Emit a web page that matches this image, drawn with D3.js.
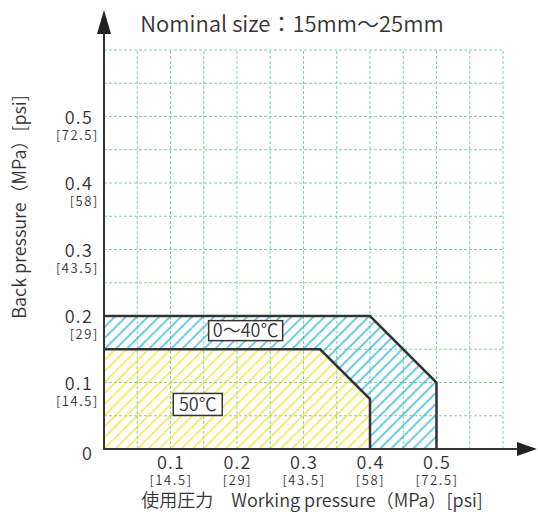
<!DOCTYPE html>
<html>
<head>
<meta charset="utf-8">
<script src="https://cdn.jsdelivr.net/npm/d3@7"></script>
<style>
  body { margin: 0; background: #fff; }
  text { font-family: "Noto Sans CJK JP", "Noto Sans", sans-serif; font-weight: 350; fill: #333; }
</style>
</head>
<body>
<div id="chart"></div>
<script>
const width = 538;
const height = 512;

const title = "Nominal size：15mm～25mm";
const xTitle = "使用圧力　Working pressure（MPa）[psi]";
const yTitle = "Back pressure（MPa）[psi]";

const tickValues = [0.1, 0.2, 0.3, 0.4, 0.5];
const psiLabels = ["[14.5]", "[29]", "[43.5]", "[58]", "[72.5]"];
const gridValues = [0.05, 0.1, 0.15, 0.2, 0.25, 0.3, 0.35, 0.4, 0.45, 0.5, 0.55, 0.6];

// working range outlines, [working pressure, back pressure]
const range0to40 = [[0, 0], [0, 0.2], [0.4, 0.2], [0.5, 0.1], [0.5, 0]];
const range50 = [[0, 0], [0, 0.15], [0.325, 0.15], [0.4, 0.075], [0.4, 0]];

const x = d3.scaleLinear().domain([0, 0.6]).range([104, 503]);
const y = d3.scaleLinear().domain([0, 0.6]).range([449, 50]);

const svg = d3.select('#chart').append('svg')
    .attr('width', width)
    .attr('height', height);

const defs = svg.append('defs');
function hatch(id, color) {
    const p = defs.append('pattern')
        .attr('id', id)
        .attr('patternUnits', 'userSpaceOnUse')
        .attr('width', 7.8)
        .attr('height', 7.8)
        .attr('patternTransform', 'rotate(45)');
    p.append('line')
        .attr('x1', 1).attr('y1', 0)
        .attr('x2', 1).attr('y2', 7.8)
        .attr('stroke', color)
        .attr('stroke-width', 1.2);
}
hatch('hatchBlue', '#0fabd9');
hatch('hatchYellow', '#f3df10');

const grid = svg.append('g')
    .attr('stroke', '#7fd2a0')
    .attr('stroke-width', 1)
    .attr('stroke-dasharray', '3,2');
grid.selectAll('line.v')
    .data(gridValues)
    .enter().append('line')
    .attr('class', 'v')
    .attr('x1', d => x(d)).attr('x2', d => x(d))
    .attr('y1', y(0)).attr('y2', y(0.6));
grid.selectAll('line.h')
    .data(gridValues)
    .enter().append('line')
    .attr('class', 'h')
    .attr('x1', x(0)).attr('x2', x(0.6))
    .attr('y1', d => y(d)).attr('y2', d => y(d));

const line = d3.line().x(d => x(d[0])).y(d => y(d[1]));

svg.append('path')
    .attr('d', line(range0to40) + 'Z')
    .attr('fill', 'url(#hatchBlue)');
svg.append('path')
    .attr('d', line(range50) + 'Z')
    .attr('fill', '#fff');

// grid shows again inside the 50 ℃ area
const grid2 = svg.append('g')
    .attr('stroke', '#7fd2a0')
    .attr('stroke-dasharray', '3,2');
grid2.selectAll('line.v')
    .data(gridValues.filter(d => d < 0.4))
    .enter().append('line')
    .attr('class', 'v')
    .attr('x1', d => x(d)).attr('x2', d => x(d))
    .attr('y1', y(0)).attr('y2', y(0.15));
grid2.selectAll('line.h')
    .data([0.05, 0.1])
    .enter().append('line')
    .attr('class', 'h')
    .attr('x1', x(0)).attr('x2', x(0.4))
    .attr('y1', d => y(d)).attr('y2', d => y(d));

svg.append('path')
    .attr('d', line(range50) + 'Z')
    .attr('fill', 'url(#hatchYellow)');

svg.append('path')
    .attr('d', line(range0to40.slice(1)))
    .attr('fill', 'none')
    .attr('stroke', '#333')
    .attr('stroke-width', 2.5);
svg.append('path')
    .attr('d', line(range50.slice(1)))
    .attr('fill', 'none')
    .attr('stroke', '#333')
    .attr('stroke-width', 2.5);

// axes with arrows
svg.append('line')
    .attr('x1', x(0)).attr('y1', y(0))
    .attr('x2', 520).attr('y2', y(0))
    .attr('stroke', '#333').attr('stroke-width', 2);
svg.append('path')
    .attr('d', `M537,${y(0)} L517,${y(0) - 7} L517,${y(0) + 7} Z`)
    .attr('fill', '#222');
svg.append('line')
    .attr('x1', x(0)).attr('y1', y(0) + 1)
    .attr('x2', x(0)).attr('y2', 30)
    .attr('stroke', '#333').attr('stroke-width', 2);
svg.append('path')
    .attr('d', `M${x(0)},10 L${x(0) - 7},34 L${x(0) + 7},34 Z`)
    .attr('fill', '#222');

// tick labels
const xt = svg.append('g').selectAll('g')
    .data(tickValues)
    .enter().append('g')
    .attr('transform', d => `translate(${x(d)},0)`);
xt.append('text')
    .attr('x', 0.5)
    .attr('y', 469)
    .attr('text-anchor', 'middle')
    .attr('font-size', 18)
    .attr('letter-spacing', 1.2)
    .text(d => d);
xt.append('text')
    .attr('x', 0.5)
    .attr('y', 485)
    .attr('text-anchor', 'middle')
    .attr('font-size', 13)
    .attr('letter-spacing', 1.6)
    .text((d, i) => psiLabels[i]);

const yt = svg.append('g').selectAll('g')
    .data(tickValues)
    .enter().append('g')
    .attr('transform', d => `translate(0,${y(d)})`);
yt.append('text')
    .attr('x', 93)
    .attr('y', 7)
    .attr('text-anchor', 'end')
    .attr('font-size', 18)
    .attr('letter-spacing', 1.2)
    .text(d => d);
yt.append('text')
    .attr('x', 99)
    .attr('y', 23)
    .attr('text-anchor', 'end')
    .attr('font-size', 13)
    .attr('letter-spacing', 1.6)
    .text((d, i) => psiLabels[i]);
svg.append('text')
    .attr('x', 92)
    .attr('y', y(0) + 11)
    .attr('text-anchor', 'end')
    .attr('font-size', 18)
    .text('0');

// region labels
function boxLabel(cx, cy, w, h, txt) {
    svg.append('rect')
        .attr('x', cx - w / 2).attr('y', cy - h / 2)
        .attr('width', w).attr('height', h)
        .attr('fill', '#fff')
        .attr('stroke', '#333')
        .attr('stroke-width', 1.5);
    svg.append('text')
        .attr('x', cx).attr('y', cy + 6.5)
        .attr('text-anchor', 'middle')
        .attr('font-size', 18)
        .text(txt);
}
boxLabel(x(0.213), y(0.178), 74, 20, '0～40℃');
boxLabel(x(0.141), y(0.067), 49, 22, '50℃');

// titles
svg.append('text')
    .attr('x', 292)
    .attr('y', 32)
    .attr('text-anchor', 'middle')
    .attr('font-size', 22)
    .text(title);
svg.append('text')
    .attr('x', 312)
    .attr('y', 507)
    .attr('text-anchor', 'middle')
    .attr('font-size', 18)
    .text(xTitle);
svg.append('text')
    .attr('transform', 'translate(26,207) rotate(-90)')
    .attr('text-anchor', 'middle')
    .attr('font-size', 18)
    .text(yTitle);
</script>
</body>
</html>
